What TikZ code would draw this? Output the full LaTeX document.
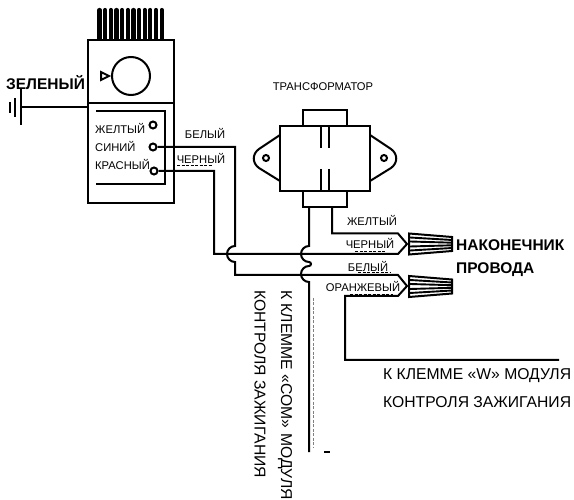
\documentclass[tikz,border=0pt]{standalone}
\usepackage{fontspec}
\setmainfont{Liberation Sans}
\usetikzlibrary{positioning, calc}

\begin{document}
\begin{tikzpicture}[
    x=1pt, y=-1pt,
    wire/.style={draw=black, line width=2pt},
    tooth/.style={draw=black, line width=4.2pt, line cap=round},
    nutline/.style={draw=black, line width=1.9pt},
    speck/.style={draw=black, line width=0.7pt, dash pattern=on 3pt off 1.5pt},
    smalllabel/.style={font=\fontsize{11.2}{13}\selectfont, inner sep=0pt},
    biglabel/.style={font=\fontsize{15.5}{18}\selectfont\bfseries, inner sep=0pt},
    noteline/.style={font=\fontsize{15.7}{19}\selectfont, inner sep=0pt},
    terminal/.style={circle, draw=black, line width=2pt, minimum size=7pt, inner sep=0pt}
]
    \useasboundingbox (0,0) rectangle (574,500);

    % Thermostat body
    \foreach \i in {0,...,11} {
        \draw[tooth] ({99.5+\i*5.65},40) -- ({99.5+\i*5.65},10);
    }
    \draw[wire, fill=white] (88,40) rectangle (174,203);
    \draw[wire] (88,103) -- (174,103);
    \node[circle, draw=black, line width=2pt, minimum size=38pt, inner sep=0pt] (dial) at (131,76) {};
    \draw[wire] (101,72) -- (109,76) -- (101,80) -- cycle;
    \draw[wire] (96,111) -- (165,111) -- (165,184) -- (96,184);

    % Terminals
    \node[terminal] (termY) at (153,125) {};
    \node[terminal] (termB) at (153,147) {};
    \node[terminal] (termR) at (154,171) {};
    \node[smalllabel, anchor=west] at (95,128) {ЖЕЛТЫЙ};
    \node[smalllabel, anchor=west] at (95,146) {СИНИЙ};
    \node[smalllabel, anchor=west] at (95,164) {КРАСНЫЙ};

    % Ground
    \coordinate (gndtop) at (21,88);
    \coordinate (gndbot) at (21,125);
    \coordinate (gndmid) at (21,107);
    \coordinate (bodyleft) at (88,107);
    \draw[wire] (gndtop) -- (gndbot);
    \draw[wire] (gndmid) -- (bodyleft);
    \draw[wire] (15,98) -- (15,117);
    \draw[wire] (9.5,102) -- (9.5,113);
    \node[biglabel, anchor=west] at (6,83) {ЗЕЛЕНЫЙ};

    % Transformer
    \node[smalllabel] at (323,87) {ТРАНСФОРМАТОР};
    \draw[wire] (303,126) -- (303,110) -- (347,110) -- (347,126);
    \draw[wire] (280,126) rectangle (370,191);
    \draw[wire] (303,191) -- (303,207) -- (347,207) -- (347,191);
    \draw[wire] (321,126) -- (321,148) (329,126) -- (329,148);
    \draw[wire] (321,169) -- (321,191) (329,169) -- (329,191);
    \draw[wire] (280,135) -- (259,149) .. controls (252,154) and (252,163) .. (259,168) -- (280,181);
    \draw[wire] (370,135) -- (391,149) .. controls (398,154) and (398,163) .. (391,168) -- (370,181);
    \node[terminal, minimum size=6pt] (earL) at (266,158) {};
    \node[terminal, minimum size=6pt] (earR) at (384,158) {};

    % Wires
    \draw[wire] (termB) -- (235,147) -- (235,246) arc[start angle=-90, end angle=-270, radius=8] -- (235,275)
        -- (398,275) -- (407,286) -- (398,296) -- (345,296) -- (345,360) -- (559,360);
    \draw[wire] (termR) -- (214,171) -- (214,254) -- (398,254) -- (407,244) -- (398,233.5) -- (332,233.5) -- (332,207);
    \draw[wire] (309,207) -- (309,246) arc[start angle=-90, end angle=-270, radius=8]
        arc[start angle=-90, end angle=90, radius=2] arc[start angle=-90, end angle=-270, radius=8] -- (309,452);

    % Wire nuts
    \foreach \yy in {244,286.5} {
        \draw[wire] (409,{\yy-10.5}) -- (452,{\yy-7}) -- (452,{\yy+7}) -- (409,{\yy+10.5}) -- cycle;
        \draw[nutline] (410,{\yy-6.5}) -- (452,{\yy-4}) (410,{\yy-2.5}) -- (452,{\yy-1.3}) (410,{\yy+2.5}) -- (452,{\yy+1.3}) (410,{\yy+6.5}) -- (452,{\yy+4});
    }

    % Wire labels
    \node[smalllabel] at (205,133) {БЕЛЫЙ};
    \node[smalllabel] at (201,158) {ЧЕРНЫЙ};
    \node[smalllabel] at (372,220) {ЖЕЛТЫЙ};
    \node[smalllabel] at (370,243) {ЧЕРНЫЙ};
    \node[smalllabel] at (368,266) {БЕЛЫЙ};
    \node[smalllabel] at (363,286) {ОРАНЖЕВЫЙ};

    % Specks left under the labels
    \draw[speck] (177,165.5) -- (212,165.5);
    \draw[speck] (355,251) -- (385,251);
    \draw[speck] (358,272) -- (390,272);
    \draw[speck] (350,294.5) -- (393,294.5);
    \draw[speck, draw=gray, line width=0.5pt] (313,298) -- (313,447);
    \draw[wire, line width=1.2pt] (324,452) -- (330,452);

    % Big labels
    \node[biglabel, anchor=west] at (456,245) {НАКОНЕЧНИК};
    \node[biglabel, anchor=west] at (456,270) {ПРОВОДА};
    \node[noteline, anchor=west] at (383,376) {К КЛЕММЕ «W» МОДУЛЯ};
    \node[noteline, anchor=west] at (383,402) {КОНТРОЛЯ ЗАЖИГАНИЯ};
    \node[noteline, rotate=-90, anchor=west] at (285,290) {К КЛЕММЕ «COM» МОДУЛЯ};
    \node[noteline, rotate=-90, anchor=west] at (260,290) {КОНТРОЛЯ ЗАЖИГАНИЯ};
\end{tikzpicture}
\end{document}
